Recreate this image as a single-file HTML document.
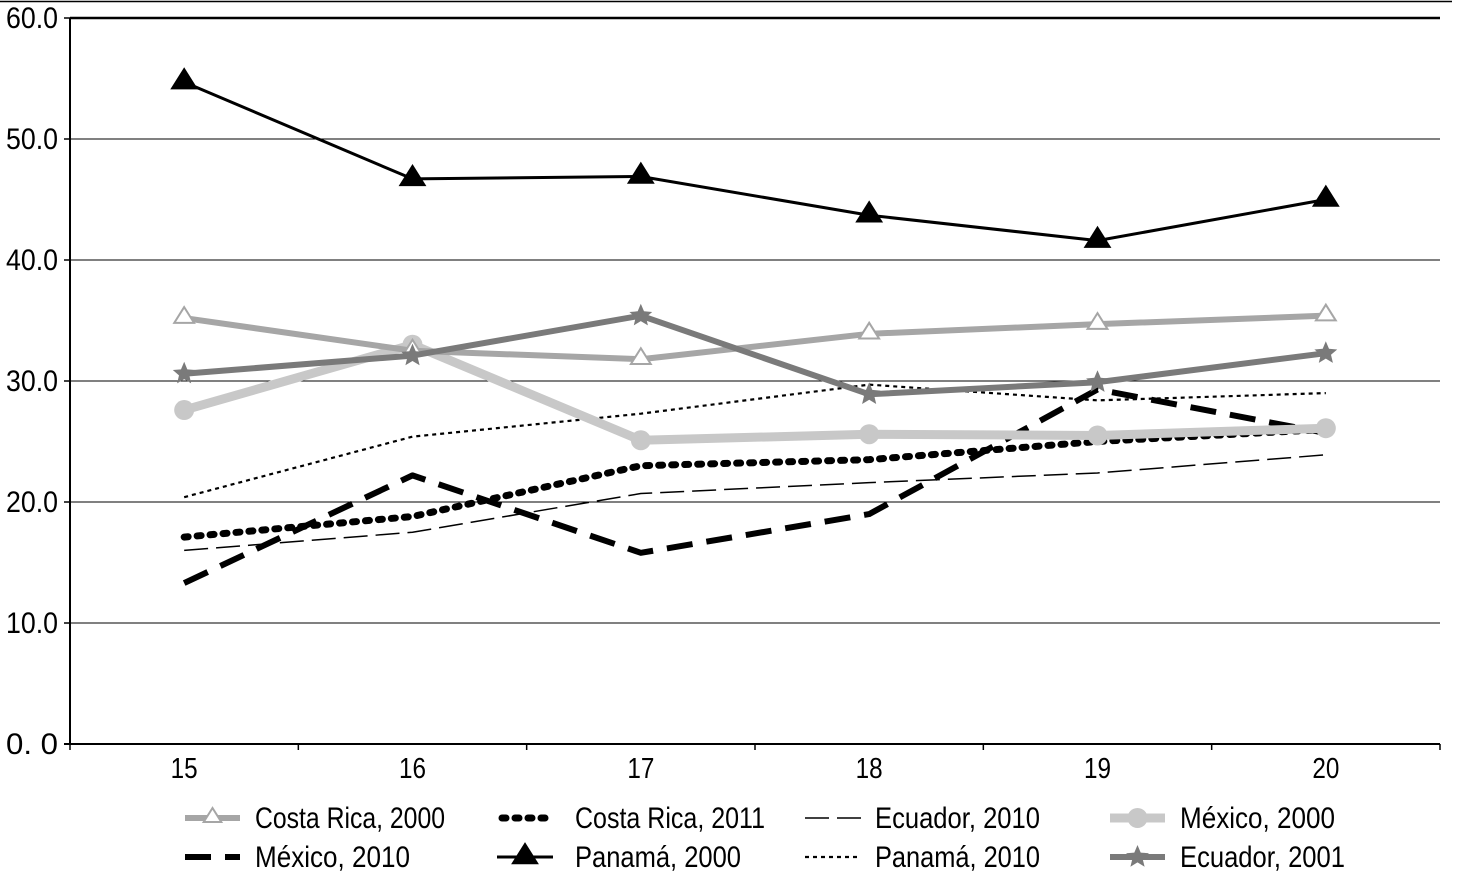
<!DOCTYPE html>
<html><head><meta charset="utf-8"><style>
html,body{margin:0;padding:0;background:#fff;}
svg{display:block;font-family:"Liberation Sans",sans-serif;}
</style></head><body>
<svg id="chart" width="1470" height="890" viewBox="0 0 1470 890" xmlns="http://www.w3.org/2000/svg">
<line x1="0" y1="1.5" x2="1452" y2="1.5" stroke="#000" stroke-width="1.5"/>
<g id="grid"></g>
<g id="axes"></g>
<g id="series"></g>
<g id="legend"></g>
</svg>
<script>
const categories = ["15","16","17","18","19","20"];
const yTicks = [0,10,20,30,40,50,60];
const yTickLabels = ["0. 0","10.0","20.0","30.0","40.0","50.0","60.0"];
const costaRica2000 = [35.2,32.5,31.8,33.9,34.7,35.4];
const costaRica2011 = [17.1,18.8,23.0,23.5,25.0,26.0];
const ecuador2010 = [16.0,17.5,20.7,21.6,22.4,23.9];
const mexico2000 = [27.6,33.0,25.1,25.6,25.5,26.1];
const mexico2010 = [13.3,22.2,15.8,19.0,29.3,25.7];
const panama2000 = [54.7,46.7,46.9,43.7,41.6,45.0];
const panama2010 = [20.4,25.4,27.3,29.7,28.4,29.0];
const ecuador2001 = [30.6,32.1,35.4,28.9,29.9,32.3];
const seriesNames = ["Costa Rica, 2000","Costa Rica, 2011","Ecuador, 2010","México, 2000","México, 2010","Panamá, 2000","Panamá, 2010","Ecuador, 2001"];

const NS="http://www.w3.org/2000/svg";
const L=70,R=1440,T=18,B=744;
const band=(R-L)/categories.length;
const x=i=>L+band*(i+0.5);
const y=v=>B-(v/60)*(B-T);
function mk(tag,attrs,parent){const e=document.createElementNS(NS,tag);for(const k in attrs)e.setAttribute(k,attrs[k]);parent.appendChild(e);return e;}
const grid=document.getElementById('grid'),axes=document.getElementById('axes'),ser=document.getElementById('series'),leg=document.getElementById('legend');

yTicks.forEach((t,i)=>{
  if(t>0){const g=mk('line',{x1:L,x2:R,y1:y(t),y2:y(t),stroke:'#000','stroke-width':t===60?2.5:1},grid);
  
  }
  const tk=mk('line',{x1:L-6,x2:L,y1:y(t),y2:y(t),stroke:'#000','stroke-width':1.5},axes);
  
  
  const tx=mk('text',{x:L-12,y:y(t)+10,'text-anchor':'end','font-size':30,textLength:52,lengthAdjust:'spacingAndGlyphs'},axes);
  tx.textContent=yTickLabels[i];
  
  
});
const ya=mk('line',{x1:L,x2:L,y1:T,y2:B,stroke:'#000','stroke-width':2},axes);


const xa=mk('line',{x1:L-6,x2:R,y1:B,y2:B,stroke:'#000','stroke-width':2},axes);


for(let i=0;i<=categories.length;i++){
  const tk=mk('line',{x1:L+band*i,x2:L+band*i,y1:B,y2:B+6,stroke:'#000','stroke-width':1.5},axes);
  
  
}
categories.forEach((c,i)=>{
  const t=mk('text',{x:x(i),y:B+34,'text-anchor':'middle','font-size':29,textLength:27,lengthAdjust:'spacingAndGlyphs'},axes);
  t.textContent=c;
  
  
});

function tri(g,cx,cy,fill,stroke,s){return mk('polygon',{points:`${cx},${cy-s} ${cx-s*1.1},${cy+s*0.75} ${cx+s*1.1},${cy+s*0.75}`,fill:fill,stroke:stroke,'stroke-width':2},g);}
function star(g,cx,cy,fill,r){let p=[];for(let k=0;k<10;k++){const a=-Math.PI/2+k*Math.PI/5;const rr=k%2?r*0.45:r;p.push((cx+rr*Math.cos(a)).toFixed(1)+','+(cy+rr*Math.sin(a)).toFixed(1));}return mk('polygon',{points:p.join(' '),fill:fill},g);}

const styles=[
 {data:costaRica2000,color:'#a6a6a6',w:6,dash:null,marker:'otri',name:'series-costa-rica-2000'},
 {data:costaRica2011,color:'#000',w:7,dash:'4 9',cap:'round',marker:null,name:'series-costa-rica-2011'},
 {data:ecuador2010,color:'#000',w:1.5,dash:'24 8',marker:null,name:'series-ecuador-2010'},
 {data:mexico2000,color:'#c8c8c8',w:9,dash:null,marker:'circle',name:'series-mexico-2000'},
 {data:mexico2010,color:'#000',w:6,dash:'26 14',marker:null,name:'series-mexico-2010'},
 {data:panama2000,color:'#000',w:3,dash:null,marker:'tri',name:'series-panama-2000'},
 {data:panama2010,color:'#000',w:2.2,dash:'4 4',marker:null,name:'series-panama-2010'},
 {data:ecuador2001,color:'#7a7a7a',w:6,dash:null,marker:'star',name:'series-ecuador-2001'}
];
const order=[6,2,1,4,3,0,7,5];
order.forEach(si=>{
  const s=styles[si];
  const g=mk('g',{},ser);
  
  
  const pts=s.data.map((v,i)=>x(i)+','+y(v)).join(' ');
  const a={points:pts,fill:'none',stroke:s.color,'stroke-width':s.w,'stroke-linejoin':'round'};
  if(s.dash)a['stroke-dasharray']=s.dash;
  if(s.cap)a['stroke-linecap']=s.cap;
  const pl=mk('polyline',a,g);
  
  
  s.data.forEach((v,i)=>{
    let m=null;
    if(s.marker==='tri')m=tri(g,x(i),y(v)-2,'#000','#000',11);
    else if(s.marker==='otri')m=tri(g,x(i),y(v)-2,'#fff','#a6a6a6',9);
    else if(s.marker==='circle')m=mk('circle',{cx:x(i),cy:y(v),r:10,fill:'#c8c8c8'},g);
    else if(s.marker==='star')m=star(g,x(i),y(v),'#7a7a7a',12);
    if(m){
    }
  });
});

const colX=[185,497,805,1110], textX=[255,575,875,1180], rowY=[818,857];
const legOrder=[0,1,2,3,4,5,6,7];
const textLens=[190,190,165,155,155,166,165,165];
legOrder.forEach((si,k)=>{
  const s=styles[si], col=k%4,row=Math.floor(k/4);
  const g=mk('g',{},leg);
  
  
  const x1=colX[col],x2=colX[col]+(col==0||col==3?55:56),yy=rowY[row];
  const a={x1:x1,x2:x2,y1:yy,y2:yy,stroke:s.color,'stroke-width':s.w};
  if(s.dash)a['stroke-dasharray']=s.dash;
  if(s.cap)a['stroke-linecap']=s.cap;
  if(si===1){a.x1=x1+5;}
  mk('line',a,g);
  const cx=(x1+x2)/2;
  if(s.marker==='tri')tri(g,cx,yy-2,'#000','#000',11);
  else if(s.marker==='otri')tri(g,cx,yy-2,'#fff','#a6a6a6',8);
  else if(s.marker==='circle')mk('circle',{cx:cx,cy:yy,r:10,fill:'#c8c8c8'},g);
  else if(s.marker==='star')star(g,cx,yy,'#7a7a7a',12);
  const t=mk('text',{x:textX[col],y:yy+10,'font-size':30,textLength:textLens[k],lengthAdjust:'spacingAndGlyphs'},g);
  t.textContent=seriesNames[si];
});
</script>
</body></html>
